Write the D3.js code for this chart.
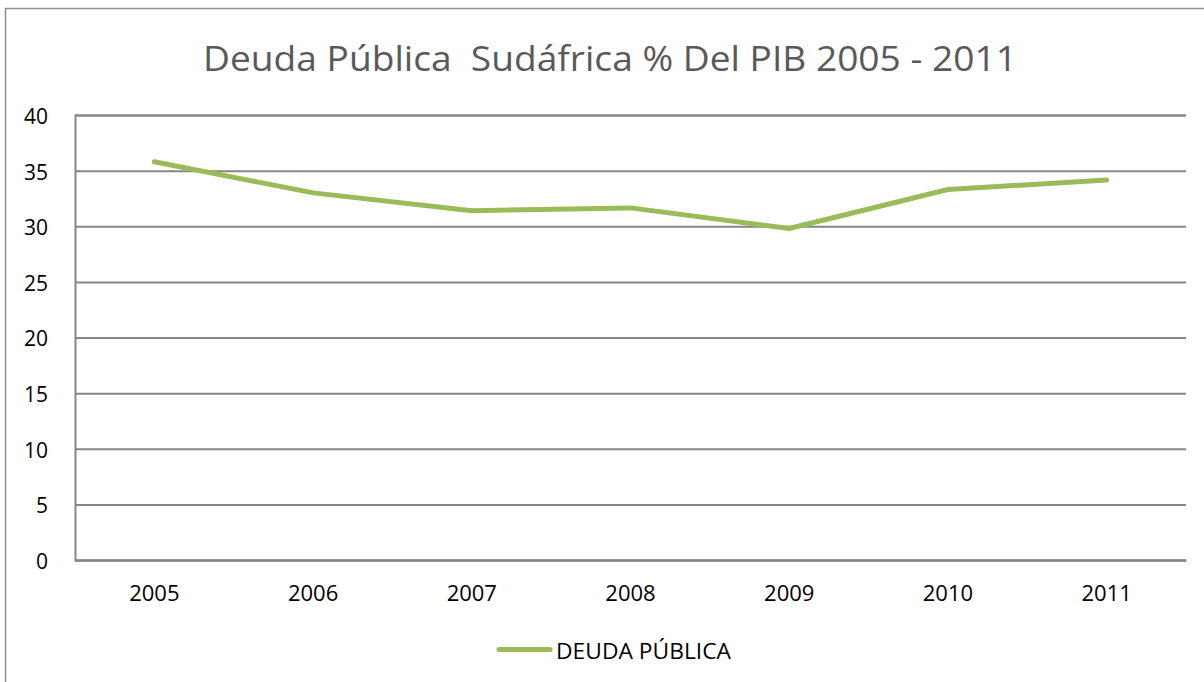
<!DOCTYPE html>
<html>
<head>
<meta charset="utf-8">
<script src="https://cdn.jsdelivr.net/npm/d3@7"></script>
<style>
  body { margin: 0; background: #fff; }
  svg { display: block; font-family: "Open Sans", "DejaVu Sans", sans-serif; }
</style>
</head>
<body>
<div id="chart"></div>
<script>
// datos
const years = ["2005", "2006", "2007", "2008", "2009", "2010", "2011"];
const deuda = [35.8, 33.0, 31.4, 31.65, 29.8, 33.3, 34.15];
const yTicks = [0, 5, 10, 15, 20, 25, 30, 35, 40];
const seriesName = "DEUDA PÚBLICA";
const titulo = "Deuda Pública  Sudáfrica % Del PIB 2005 - 2011";

const width = 1204, height = 682;
const margin = { top: 115, right: 18, bottom: 122, left: 75 };

const svg = d3.select("#chart").append("svg")
  .attr("width", width)
  .attr("height", height);

// marco exterior
svg.append("rect")
  .attr("x", 5.5).attr("y", 8.5)
  .attr("width", 1210).attr("height", 700)
  .attr("fill", "#fff")
  .attr("stroke", "#8c8c8c")
  .attr("stroke-width", 1.5);

const x = d3.scaleBand()
  .domain(years)
  .range([margin.left, width - margin.right]);

const y = d3.scaleLinear()
  .domain([0, 40])
  .range([height - margin.bottom, margin.top]);

// titulo (con el doble espacio del original)
svg.append("text")
  .attr("x", 610).attr("y", 71)
  .attr("text-anchor", "middle")
  .attr("fill", "#595959")
  .style("font-size", "34px")
  .style("white-space", "pre")
  .attr("textLength", 814)
  .attr("lengthAdjust", "spacingAndGlyphs")
  .text(titulo);

// lineas de la cuadricula
const yAxis = d3.axisLeft(y)
  .tickValues(yTicks)
  .tickSize(-(width - margin.left - margin.right))
  .tickPadding(27);

const gy = svg.append("g")
  .attr("transform", `translate(${margin.left},0)`)
  .call(yAxis);
gy.select(".domain").attr("stroke", "#868686").attr("stroke-width", 2);
gy.selectAll(".tick line").attr("stroke", "#868686").attr("stroke-width", 2);
gy.selectAll(".tick text")
  .attr("fill", "#000")
  .attr("dy", "0.4em")
  .style("font-size", "21px")
  .style("font-family", "'Open Sans', sans-serif");

const xAxis = d3.axisBottom(x).tickSize(0).tickPadding(25);
const gx = svg.append("g")
  .attr("transform", `translate(0,${height - margin.bottom})`)
  .call(xAxis);
gx.select(".domain").attr("stroke", "#868686").attr("stroke-width", 2);
gx.selectAll(".tick text")
  .attr("fill", "#000")
  .style("font-size", "22px")
  .style("font-family", "'Open Sans', sans-serif");

// serie
const line = d3.line()
  .x((d, i) => x(years[i]) + x.bandwidth() / 2)
  .y(d => y(d));

svg.append("path")
  .datum(deuda)
  .attr("fill", "none")
  .attr("stroke", "#9bbb59")
  .attr("stroke-width", 5)
  .attr("stroke-linecap", "round")
  .attr("stroke-linejoin", "round")
  .attr("d", line);

// leyenda
const leg = svg.append("g").attr("transform", "translate(497,649.5)");
leg.append("line")
  .attr("x1", 2).attr("x2", 53)
  .attr("stroke", "#9bbb59")
  .attr("stroke-width", 5)
  .attr("stroke-linecap", "round");
leg.append("text")
  .attr("x", 59).attr("y", 9)
  .attr("fill", "#000")
  .style("font-size", "22px")
  .attr("textLength", 175)
  .attr("lengthAdjust", "spacingAndGlyphs")
  .text(seriesName);
</script>
</body>
</html>
